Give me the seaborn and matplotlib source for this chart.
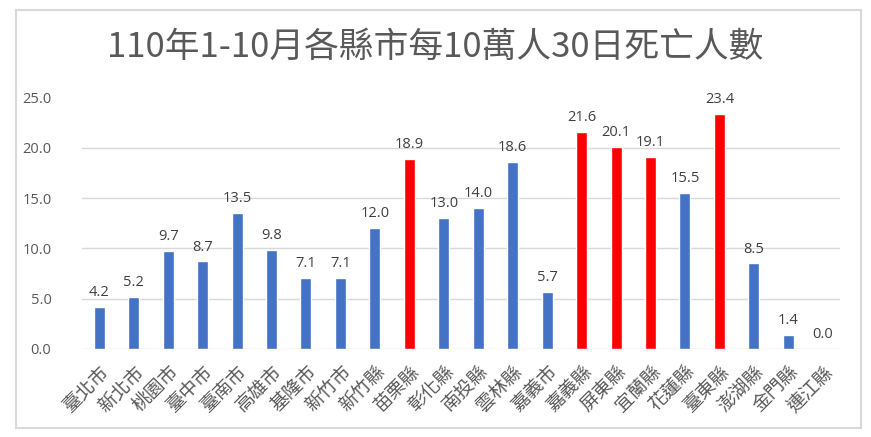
import matplotlib
matplotlib.use("Agg")
import matplotlib.pyplot as plt
import seaborn as sns
import pandas as pd
from matplotlib.patches import Rectangle

categories = ["臺北市", "新北市", "桃園市", "臺中市", "臺南市", "高雄市", "基隆市", "新竹市",
              "新竹縣", "苗栗縣", "彰化縣", "南投縣", "雲林縣", "嘉義市", "嘉義縣", "屏東縣",
              "宜蘭縣", "花蓮縣", "臺東縣", "澎湖縣", "金門縣", "連江縣"]
values = [4.2, 5.2, 9.7, 8.7, 13.5, 9.8, 7.1, 7.1, 12.0, 18.9, 13.0, 14.0, 18.6, 5.7,
          21.6, 20.1, 19.1, 15.5, 23.4, 8.5, 1.4, 0.0]
highlight = ["苗栗縣", "嘉義縣", "屏東縣", "宜蘭縣", "臺東縣"]
title = "110年1-10月各縣市每10萬人30日死亡人數"
yticks = [0, 5, 10, 15, 20, 25]

BLUE = "#4472C4"
RED = "#FF0000"

df = pd.DataFrame({"cat": categories, "val": values})
palette = {c: (RED if c in highlight else BLUE) for c in categories}

sns.set_theme(style="white")
plt.rcParams["font.family"] = ["Noto Sans CJK TC", "DejaVu Sans"]

W, H = 871, 437
fig = plt.figure(figsize=(W / 100, H / 100), dpi=100)
fig.patch.set_facecolor("white")

ax = fig.add_axes([82 / W, 1 - 349 / H, (840 - 82) / W, (349 - 97.5) / H])
sns.barplot(data=df, x="cat", y="val", hue="cat", palette=palette, legend=False,
            width=0.32, ax=ax, saturation=1)

ax.set_ylim(0, 25)
ax.set_xlim(-0.5, len(categories) - 0.5)
ax.set_yticks(yticks)
ax.set_yticklabels([f"{v:.1f}" for v in yticks], fontsize=10.5, color="#595959",
                   family=["Open Sans", "DejaVu Sans"])
for y in yticks[1:-1]:
    ax.axhline(y, color="#D9D9D9", lw=1, zorder=0)
ax.axhline(0, color="#D9D9D9", lw=1, zorder=0)
ax.set_xlabel("")
ax.set_ylabel("")
for s in ax.spines.values():
    s.set_visible(False)
ax.tick_params(axis="both", length=0)
ax.tick_params(axis="y", pad=22)
ax.set_xticks(range(len(categories)))
ax.set_xticklabels(categories, rotation=45, ha="right", rotation_mode="anchor",
                   fontsize=13.5, color="#595959", fontweight="light")
ax.tick_params(axis="x", pad=9)

for container in ax.containers:
    ax.bar_label(container, fmt="%.1f", padding=5, fontsize=10.5, color="#404040",
                 family=["Open Sans", "DejaVu Sans"])

fig.text(0.5, 1 - 47 / H, title, ha="center", va="center", fontsize=25,
         color="#595959", fontweight="light")

fig.patches.append(Rectangle((16 / W, 1 - 428 / H), (861 - 16) / W, (428 - 10) / H,
                             transform=fig.transFigure, fill=False,
                             edgecolor="#D9D9D9", lw=1.5, zorder=0))

fig.savefig("out.png", dpi=100, facecolor="white")
